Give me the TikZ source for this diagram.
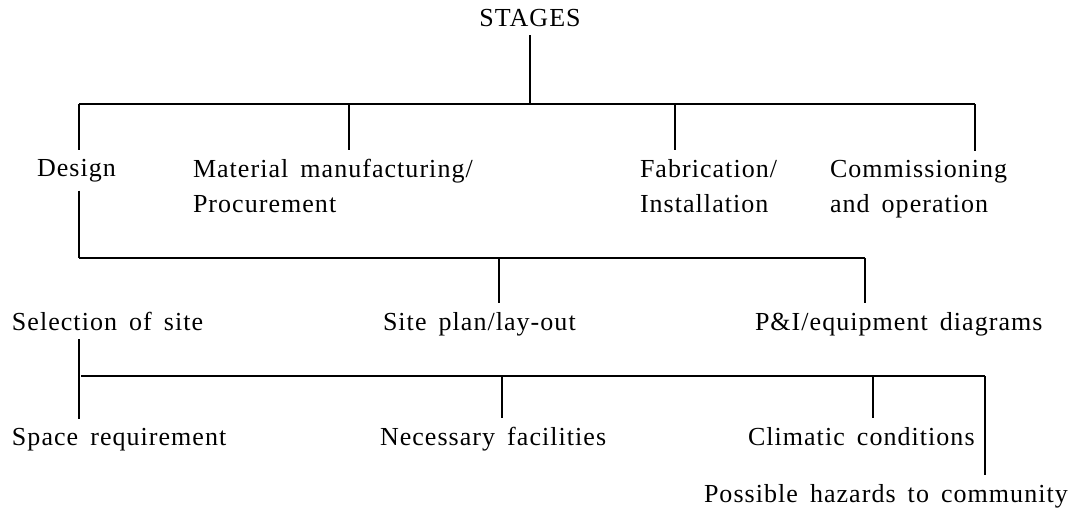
\documentclass[tikz,border=0pt]{standalone}
\usepackage{fontspec}
\setmainfont{Liberation Serif}[LetterSpace=4,WordSpace=1.6]

\begin{document}
\begin{tikzpicture}[x=1pt,y=-1pt,
  lbl/.style={anchor=base west, inner sep=0pt, outer xsep=0pt, outer ysep=9pt, align=left, font=\fontsize{26}{35}\selectfont},
  wire/.style={line width=1.2pt}]
\useasboundingbox (0,0) rectangle (1080,512);

% stages (two-line nodes sit on their last baseline)
\node[lbl, anchor=base](stages) at (530,26){STAGES};
\node[lbl](design) at (37,176){Design};
\node[lbl](material) at (193,212){Material manufacturing/\\Procurement};
\node[lbl](fabric) at (640,212){Fabrication/\\Installation};
\node[lbl](commis) at (830,212){Commissioning\\and operation};

% design
\node[lbl](select) at (12,330){Selection of site};
\node[lbl](layout) at (383,330){Site plan/lay-out};
\node[lbl](pid) at (755,330){P\&I/equipment diagrams};

% selection of site
\node[lbl](space) at (12,445){Space requirement};
\node[lbl](facil) at (380,445){Necessary facilities};
\node[lbl](climate) at (748,445){Climatic conditions};
\node[lbl](hazard) at (704,502){Possible hazards to community};

\coordinate (b1l) at (79,104);  \coordinate (b1r) at (975,104);
\coordinate (b2l) at (79,258);  \coordinate (b2r) at (865,258);
\coordinate (b3l) at (81,376);  \coordinate (b3r) at (985,376);

\draw[wire](stages.south)--(stages.south |- b1l);
\draw[wire](b1l)--(b1r);
\draw[wire](b1l)--(b1l |- design.north);
\draw[wire](349,104)--(349,0 |- material.north);
\draw[wire](675,104)--(675,0 |- fabric.north);
\draw[wire](b1r)--(b1r |- commis.north);

\draw[wire](design.south -| b2l)--(b2l);
\draw[wire](b2l)--(b2r);
\draw[wire](499,258)--(499,0 |- layout.north);
\draw[wire](b2r)--(b2r |- pid.north);

\draw[wire](select.south -| b2l)--(space.north -| b2l);
\draw[wire](b3l)--(b3r);
\draw[wire](502,376)--(502,0 |- facil.north);
\draw[wire](873,376)--(873,0 |- climate.north);
\draw[wire](b3r)--(b3r |- hazard.north);
\end{tikzpicture}
\end{document}
